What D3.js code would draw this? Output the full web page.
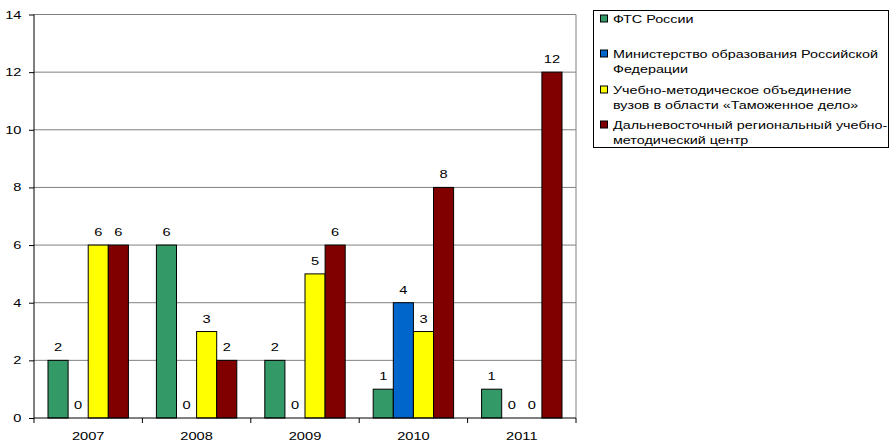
<!DOCTYPE html>
<html>
<head>
<meta charset="utf-8">
<script src="https://cdn.jsdelivr.net/npm/d3@7"></script>
<style>
  body { margin: 0; background: #fff; }
  svg { font-family: Arial, "Liberation Sans", sans-serif; }
</style>
</head>
<body>
<div id="main"></div>
<script>
const years = ["2007", "2008", "2009", "2010", "2011"];
const seriesNames = [
  "ФТС России",
  "Министерство образования Российской Федерации",
  "Учебно-методическое объединение вузов в области «Таможенное дело»",
  "Дальневосточный региональный учебно-методический центр"
];
const fts = [2, 6, 2, 1, 1];
const minobr = [0, 0, 0, 4, 0];
const umo = [6, 3, 5, 3, 0];
const dvrc = [6, 2, 6, 8, 12];
const yTicks = [0, 2, 4, 6, 8, 10, 12, 14];
const colors = ["#339966", "#0066cc", "#ffff00", "#800000"];

// legend lines (wrapped as in the picture)
const legendLines = [
  ["ФТС России"],
  ["Министерство образования Российской", "Федерации"],
  ["Учебно-методическое объединение", "вузов в области «Таможенное дело»"],
  ["Дальневосточный региональный учебно-", "методический центр"]
];

const allSeries = [fts, minobr, umo, dvrc];
const width = 890, height = 443;
const plot = { left: 34, right: 576, top: 14.5, bottom: 418 };
const stretch = 1.33; // the original text is wide, like a stretched image

const svg = d3.select("#main").append("svg")
  .attr("width", width)
  .attr("height", height);

/**
 * Text scaled horizontally around its anchor point.
 */
const wideText = function (parent, x, y, str, anchor, size) {
  return parent.append("text")
    .attr("transform", "translate(" + x + "," + y + ") scale(" + stretch + ",1)")
    .attr("text-anchor", anchor)
    .attr("font-size", size)
    .attr("fill", "#000")
    .text(str);
};

const x0 = d3.scaleBand().domain(years).range([plot.left, plot.right]).padding(0);
const groupPad = 14 / 108.4;
const x1 = d3.scaleBand().domain(d3.range(4))
  .range([x0.bandwidth() * groupPad, x0.bandwidth() * (1 - groupPad)]).padding(0);
const y = d3.scaleLinear().domain([0, 14]).range([plot.bottom, plot.top]);

// gridlines
svg.append("g").selectAll("line").data(yTicks.filter(d => d > 0))
  .enter().append("line")
  .attr("x1", plot.left).attr("x2", plot.right)
  .attr("y1", d => y(d)).attr("y2", d => y(d))
  .attr("stroke", "#808080").attr("stroke-width", 1);

// right border of plot area
svg.append("line")
  .attr("x1", plot.right).attr("x2", plot.right)
  .attr("y1", plot.top).attr("y2", plot.bottom)
  .attr("stroke", "#808080");

// bars
const groups = svg.append("g").selectAll("g").data(years)
  .enter().append("g")
  .attr("transform", d => "translate(" + x0(d) + ",0)");

groups.each(function (year, yi) {
  const g = d3.select(this);
  allSeries.forEach(function (s, si) {
    const v = s[yi];
    if (v > 0) {
      g.append("rect")
        .attr("x", x1(si))
        .attr("y", y(v))
        .attr("width", x1.bandwidth())
        .attr("height", y(0) - y(v))
        .attr("fill", colors[si])
        .attr("stroke", "#000")
        .attr("stroke-width", 1);
    }
    wideText(g, x1(si) + x1.bandwidth() / 2, y(v) - 9, v, "middle", 11);
  });
});

// axes (lines only, labels drawn below)
const yAxis = d3.axisLeft(y).tickValues(yTicks).tickSize(5).tickFormat("");
svg.append("g")
  .attr("transform", "translate(" + plot.left + ",0)")
  .call(yAxis)
  .call(g => g.select(".domain").attr("d", "M0," + plot.top + "V" + plot.bottom));

const xAxis = d3.axisBottom(x0).tickSize(0).tickFormat("");
const xg = svg.append("g")
  .attr("transform", "translate(0," + plot.bottom + ")")
  .call(xAxis)
  .call(g => g.select(".domain").attr("d", "M" + plot.left + ",0H" + plot.right));
// tick marks at group boundaries
xg.selectAll(".sep").data(years.concat(["end"]))
  .enter().append("line")
  .attr("class", "sep")
  .attr("x1", (d, i) => plot.left + i * x0.bandwidth())
  .attr("x2", (d, i) => plot.left + i * x0.bandwidth())
  .attr("y1", 0).attr("y2", 5)
  .attr("stroke", "#000");

const labels = svg.append("g");
yTicks.forEach(function (t) {
  wideText(labels, 21.5, y(t) + 4, t, "end", 11);
});
years.forEach(function (yr) {
  wideText(labels, x0(yr) + x0.bandwidth() / 2, 440, yr, "middle", 11);
});

// legend
const lg = svg.append("g");
lg.append("rect")
  .attr("x", 593.5).attr("y", 10.5)
  .attr("width", 295).attr("height", 137)
  .attr("fill", "#fff").attr("stroke", "#000");

const entryY = [18.5, 53.5, 89.5, 124.5];
legendLines.forEach(function (lines, i) {
  lg.append("rect")
    .attr("x", 600.5).attr("y", entryY[i] - 3.5)
    .attr("width", 7).attr("height", 7)
    .attr("fill", colors[i]).attr("stroke", "#000");
  lines.forEach(function (line, j) {
    wideText(lg, 613, entryY[i] + 4 + j * 15.5, line, "start", 10.8);
  });
});
</script>
</body>
</html>
